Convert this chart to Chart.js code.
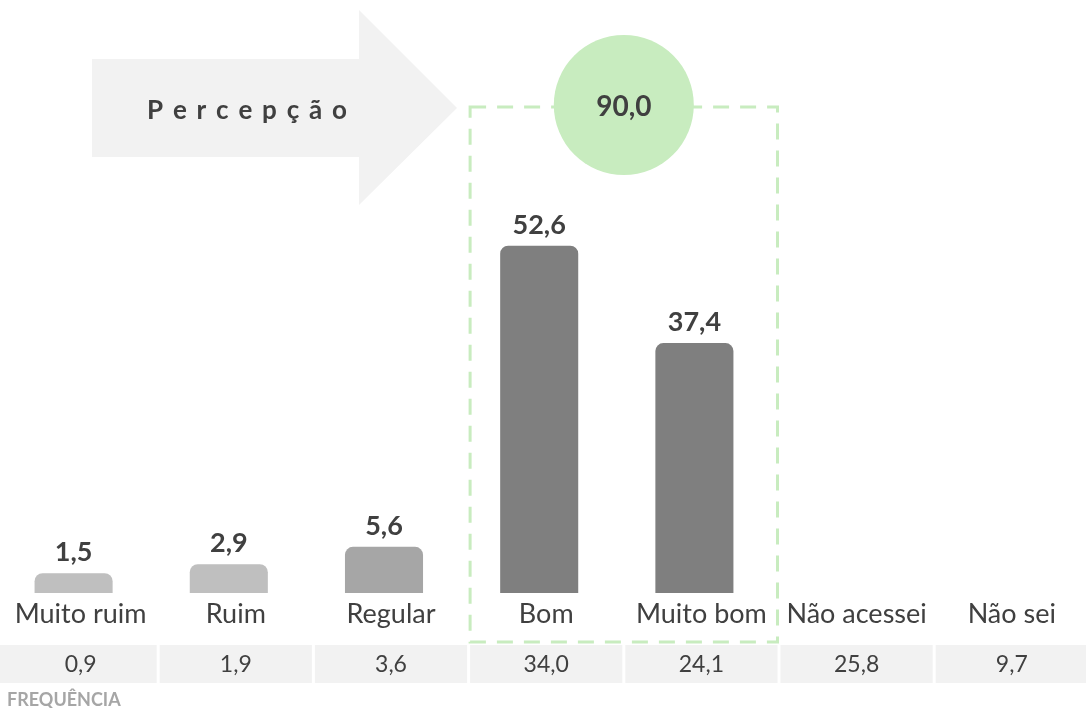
<!DOCTYPE html>
<html>
<head>
<meta charset="utf-8">
<script src="https://cdn.jsdelivr.net/npm/chart.js@4.4.1/dist/chart.umd.min.js"></script>
<style>
  html, body { margin: 0; padding: 0; background: #fff; overflow: hidden; }
  #wrap { position: relative; width: 1086px; height: 708px; overflow: hidden; }
  #chart { position: absolute; left: -4px; top: 0; }
</style>
</head>
<body>
<div id="wrap"><canvas id="chart" width="1092" height="708"></canvas></div>
<script>
/* ---- Data ---- */
const categories      = ['Muito ruim', 'Ruim', 'Regular', 'Bom', 'Muito bom', 'Não acessei', 'Não sei'];
const percentValues   = [1.5, 2.9, 5.6, 52.6, 37.4, null, null];
const frequencyValues = [0.9, 1.9, 3.6, 34.0, 24.1, 25.8, 9.7];
const highlightRange  = [3, 4];          // Bom + Muito bom
const highlightTotal  = 90.0;
const arrowLabel      = 'Percepção';
const tableLabel      = 'FREQUÊNCIA';

const barColors = ['#bfbfbf', '#bfbfbf', '#a6a6a6', '#7f7f7f', '#7f7f7f', '#7f7f7f', '#7f7f7f'];

const OX    = 4;   // canvas sits 4px left of the page
const FONT  = 'Lato, "Open Sans", sans-serif';
const TEXT  = '#404040';
const GREEN = '#c8ecbf';

const fmt = v => v.toFixed(1).replace('.', ',');

/* ---- Decorations: arrow, table, highlight box ---- */
const decorPlugin = {
  id: 'decor',
  beforeDatasetsDraw(chart) {
    const { ctx, scales: { x } } = chart;
    const step  = x.getPixelForValue(1) - x.getPixelForValue(0);
    const last  = categories.length - 1;
    const cellC = i => x.getPixelForValue(i) + 7;
    const cellL = i => i === 0 ? OX : cellC(i) - step / 2 + 1.5;
    const cellR = i => i === last ? 1086 + OX : cellC(i) + step / 2 - 1.5;

    ctx.save();

    /* arrow */
    ctx.fillStyle = '#f2f2f2';
    ctx.beginPath();
    [[92, 59], [359, 59], [359, 10], [457, 108], [359, 205], [359, 157], [92, 157]]
      .forEach(([px, py], k) => k ? ctx.lineTo(px + OX, py) : ctx.moveTo(px + OX, py));
    ctx.closePath();
    ctx.fill();

    ctx.font = `bold 26px ${FONT}`;
    ctx.fillStyle = TEXT;
    ctx.textBaseline = 'alphabetic';
    ctx.textAlign = 'left';
    const spacing = 9.8;
    const chars = [...arrowLabel];
    const widths = chars.map(c => ctx.measureText(c).width);
    const total = widths.reduce((s, w) => s + w, 0) + spacing * (chars.length - 1);
    let cx = 247 + OX - total / 2;
    chars.forEach((c, k) => { ctx.fillText(c, cx, 119); cx += widths[k] + spacing; });

    /* frequency table */
    ctx.font = `23px ${FONT}`;
    ctx.textAlign = 'center';
    ctx.textBaseline = 'middle';
    frequencyValues.forEach((v, i) => {
      ctx.fillStyle = '#f2f2f2';
      ctx.fillRect(cellL(i), 645, cellR(i) - cellL(i), 38);
      ctx.fillStyle = TEXT;
      ctx.fillText(fmt(v), cellC(i), 665);
    });

    ctx.font = `bold 18px ${FONT}`;
    ctx.fillStyle = '#a6a6a6';
    ctx.textAlign = 'left';
    ctx.textBaseline = 'alphabetic';
    ctx.fillText(tableLabel, 7 + OX, 706);

    /* dashed highlight box */
    const [a, b] = highlightRange;
    ctx.strokeStyle = GREEN;
    ctx.lineWidth = 3;
    ctx.setLineDash([16, 11]);
    ctx.strokeRect(cellL(a), 107, cellR(b) - cellL(a), 535);
    ctx.setLineDash([]);

    /* total circle */
    const ccx = (cellR(a) + cellL(b)) / 2;
    ctx.fillStyle = GREEN;
    ctx.beginPath();
    ctx.arc(ccx, 105, 70, 0, Math.PI * 2);
    ctx.fill();
    ctx.font = `bold 28px ${FONT}`;
    ctx.fillStyle = TEXT;
    ctx.textAlign = 'center';
    ctx.textBaseline = 'middle';
    ctx.fillText(fmt(highlightTotal), ccx, 107);

    ctx.restore();
  },
  afterDatasetsDraw(chart) {
    const { ctx } = chart;
    const meta = chart.getDatasetMeta(0);
    ctx.save();
    ctx.font = `bold 27px ${FONT}`;
    ctx.fillStyle = TEXT;
    ctx.textAlign = 'center';
    ctx.textBaseline = 'alphabetic';
    meta.data.forEach((bar, i) => {
      const v = percentValues[i];
      if (v == null) return;
      ctx.fillText(fmt(v), bar.x, bar.y - 12);
    });
    ctx.restore();
  },
};

new Chart(document.getElementById('chart'), {
  type: 'bar',
  data: {
    labels: categories,
    datasets: [{
      data: percentValues,
      backgroundColor: barColors,
      borderRadius: { topLeft: 8, topRight: 8 },
      borderSkipped: 'start',
      base: -1.6,
      barPercentage: 0.503,
      categoryPercentage: 1,
    }],
  },
  options: {
    responsive: false,
    animation: false,
    layout: { padding: { top: 6, bottom: 72.6, left: 0, right: 5.6 } },
    plugins: { legend: { display: false }, tooltip: { enabled: false } },
    scales: {
      x: {
        grid: { display: false, drawTicks: false },
        border: { display: false },
        ticks: {
          font: { family: FONT, size: 27 },
          color: TEXT,
          padding: 5,
          labelOffset: 7,
          maxRotation: 0,
          autoSkip: false,
        },
      },
      y: { display: false, min: -1.6, max: 90 },
    },
  },
  plugins: [decorPlugin],
});
</script>
</body>
</html>
